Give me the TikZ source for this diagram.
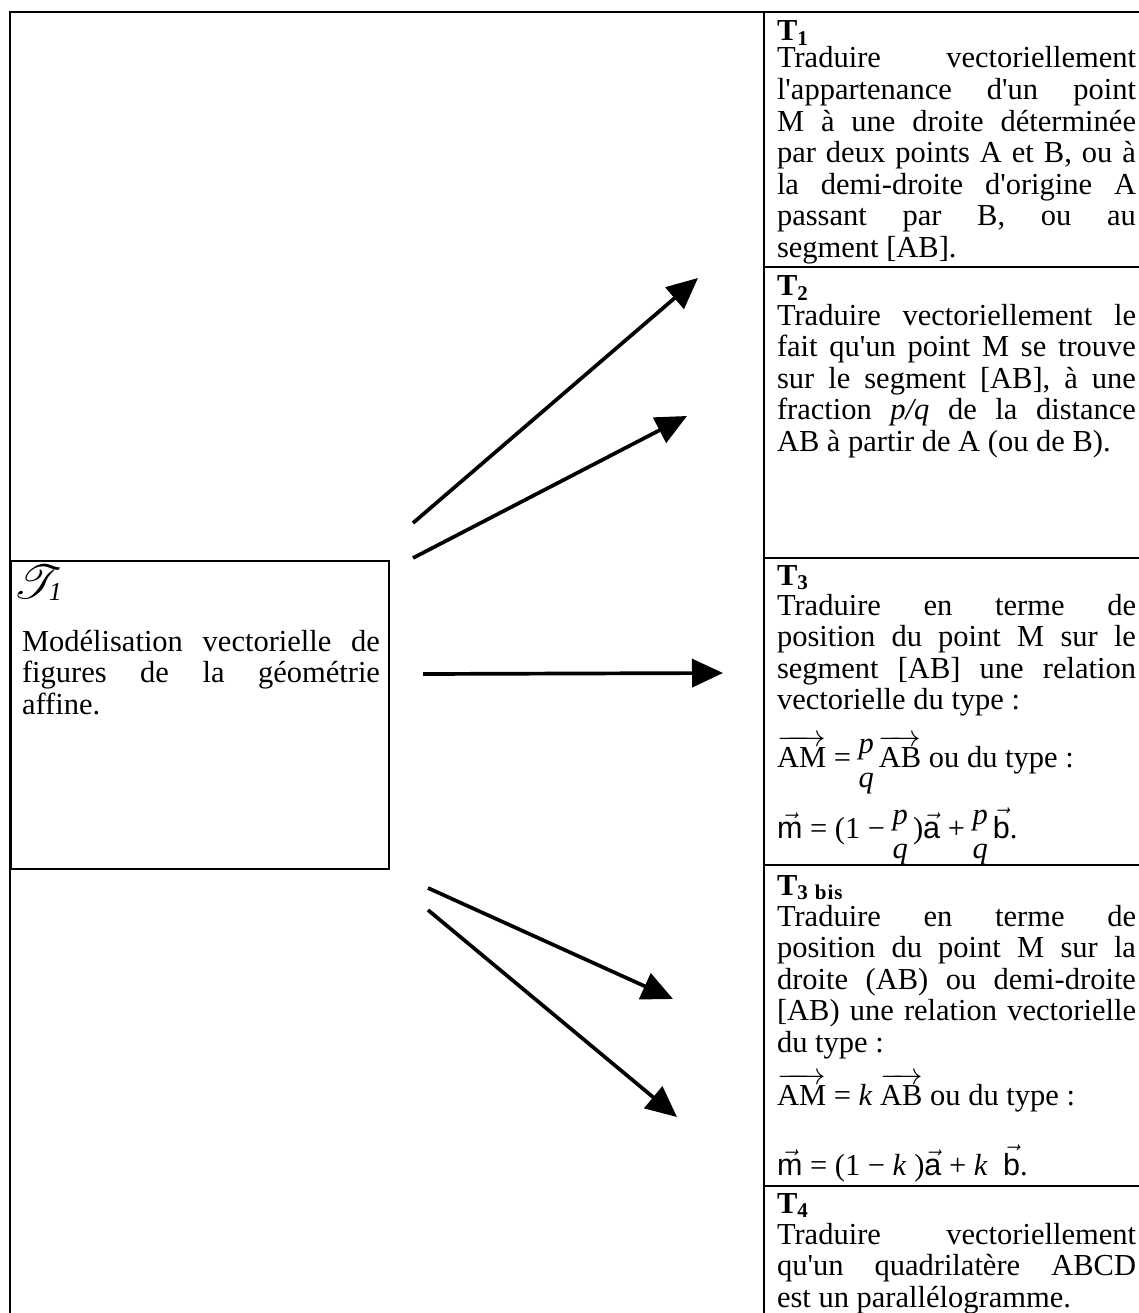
\RequirePackage{fix-cm}
\documentclass[tikz,border=0pt]{standalone}
\usepackage{amsmath}
\usepackage{graphicx}
\usepackage{mathrsfs}
\usepackage{fontspec}
\setmainfont{Liberation Serif}
\newfontfamily\arialf{Liberation Sans}
\usetikzlibrary{arrows.meta}
\tikzset{
  rulestyle/.style={line width=2.4pt, line cap=rect},
  txt/.style={inner sep=0pt, outer sep=0pt, font=\fontsize{30.5}{31.6}\selectfont},
  bodytext/.style={txt, anchor=north west, text width=359pt, align=justify},
  headtext/.style={txt, anchor=base west},
  formula/.style={txt, anchor=base west},
  bigarrow/.style={line width=3.7pt, -{Triangle[length=31pt,width=28pt]}},
}
\newcommand{\blockhead}[1]{\textbf{T}\raisebox{-4.5pt}{\fontsize{21}{21}\selectfont\bfseries #1}}
\newcommand{\vecar}[1]{$\overrightarrow{\mbox{#1}}$}
\newcommand{\vecsf}[1]{$\vec{\mbox{\arialf #1}}$}
\newcommand{\pq}{\mbox{\rlap{\raisebox{14pt}{\itshape p}}\raisebox{-20pt}{\itshape q}}}
\newcommand{\firstline}{\parindent=0pt\tolerance=10000\hbadness=10000\hyphenpenalty=10000\exhyphenpenalty=10000\rule{0pt}{24pt}}
\newcommand{\ap}{\textquotesingle}
\begin{document}
\begin{tikzpicture}[x=1pt,y=-1pt]
\useasboundingbox (0,0) rectangle (1138,1313);
% frame
\draw[rulestyle] (1138,12) -- (10,12) -- (10,1313);
\draw[rulestyle] (764,12) -- (764,1313);
\foreach \yy in {267,558,865,1186} \draw[rulestyle] (764,\yy) -- (1138,\yy);
% left box
\node[draw, line width=2.4pt, minimum width=378pt, minimum height=308pt, anchor=north west, inner sep=0pt] (scriptbox) at (10,560) {};
\node[headtext] (scripthead) at (13,598) {\resizebox{!}{33pt}{$\mathscr{T}$}\kern-13pt\raisebox{-2pt}{\fontsize{26}{26}\selectfont\itshape 1}};
\node[bodytext, text width=358pt] (scriptbody) at (22,627) {\firstline Modélisation vectorielle de\linebreak{} figures de la géométrie\linebreak{} affine.};
% T1
\node[headtext] (h1) at (777,41) {\blockhead{1}};
\node[bodytext] (b1) at (777,44) {\firstline Traduire vectoriellement\linebreak{} l\ap appartenance d\ap un point\linebreak{} M à une droite déterminée\linebreak{} par deux points A et B, ou à\linebreak{} la demi-droite d\ap origine A\linebreak{} passant par B, ou au\linebreak{} segment [AB].};
% T2
\node[headtext] (h2) at (777,296) {\blockhead{2}};
\node[bodytext] (b2) at (777,301) {\firstline Traduire vectoriellement le\linebreak{} fait qu\ap un point M se trouve\linebreak{} sur le segment [AB], à une\linebreak{} fraction \textit{p/q} de la distance\linebreak{} AB à partir de A (ou de B).};
% T3
\node[headtext] (h3) at (777,585) {\blockhead{3}};
\node[bodytext] (b3) at (777,591) {\firstline Traduire en terme de\linebreak{} position du point M sur le\linebreak{} segment [AB] une relation\linebreak{} vectorielle du type~:};
\node[formula] (f3a) at (777,767) {\vecar{AM} = \pq\,\vecar{AB} ou du type~:};
\node[formula] (f3b) at (777,838) {\vecsf{m} = (1 − \pq\,)\vecsf{a} + \pq\,\vecsf{b}.};
% T3 bis
\node[headtext] (h3b) at (777,895) {\blockhead{3\,\,b\kern1pt i\kern1pt s}};
\node[bodytext] (b3b) at (777,902) {\firstline Traduire en terme de\linebreak{} position du point M sur la\linebreak{} droite (AB) ou demi-droite\linebreak{} [AB) une relation vectorielle\linebreak{} du type~:};
\node[formula] (f3ba) at (777,1105) {\vecar{AM} = \textit{k} \vecar{AB} ou du type~:};
\node[formula] (f3bb) at (777,1175) {\vecsf{m} = (1 − \textit{k} )\vecsf{a} + \textit{k}~~\vecsf{b}.};
% T4
\node[headtext] (h4) at (777,1213) {\blockhead{4}};
\node[bodytext] (b4) at (777,1220) {\firstline Traduire vectoriellement\linebreak{} qu\ap un quadrilatère ABCD\linebreak{} est un parallélogramme.};
% arrows
\coordinate (s1) at (413,523); \coordinate (e1) at (698,278);
\coordinate (s2) at (413,558); \coordinate (e2) at (687,416);
\coordinate (s3) at (423,674); \coordinate (e3) at (723,673);
\coordinate (s4) at (428,888); \coordinate (e4) at (673,999);
\coordinate (s5) at (428,910); \coordinate (e5) at (677,1117);
\draw[bigarrow] (s1) -- (e1);
\draw[bigarrow] (s2) -- (e2);
\draw[bigarrow] (s3) -- (e3);
\draw[bigarrow] (s4) -- (e4);
\draw[bigarrow] (s5) -- (e5);
\end{tikzpicture}
\end{document}
